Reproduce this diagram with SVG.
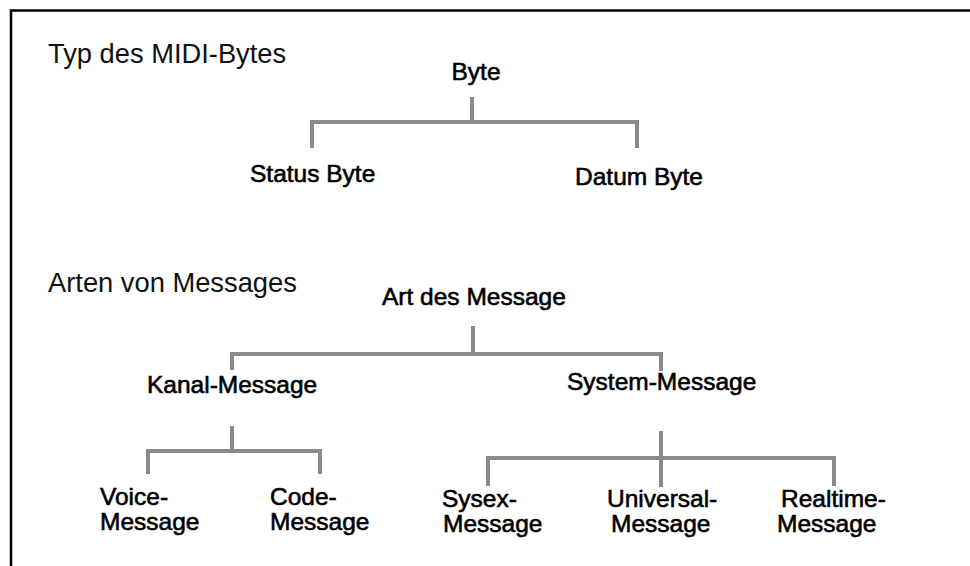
<svg xmlns="http://www.w3.org/2000/svg" width="970" height="566" viewBox="0 0 970 566">
  <style>
    .frame { fill: none; stroke: #000; stroke-width: 2.5; }
    .title { font-family: "Liberation Sans", Arial, sans-serif; font-size: 27.3px; fill: #111; }
    .label { font-family: "Liberation Sans", Arial, sans-serif; font-size: 24.5px; fill: #000; stroke: #000; stroke-width: 0.6; }
    .mid { text-anchor: middle; }
    .link { fill: none; stroke: #8a8a8a; stroke-width: 4; stroke-linejoin: miter; stroke-linecap: square; }
  </style>

  <rect width="970" height="566" fill="#fff"/>
  <!-- open frame: top and left edges -->
  <path class="frame" d="M11,566 V10.5 H970"/>

  <!-- section headings -->
  <text class="title" x="48" y="63">Typ des MIDI-Bytes</text>
  <text class="title" x="48" y="292">Arten von Messages</text>

  <!-- tree connectors -->
  <g id="connectors">
    <path class="link" d="M472,99 V122"/>
    <path class="link" d="M312,146 V122 H637 V146"/>
    <path class="link" d="M473,328 V354"/>
    <path class="link" d="M232,368 V354 H661 V369"/>
    <path class="link" d="M232,428 V451"/>
    <path class="link" d="M148,472 V451 H320 V472"/>
    <path class="link" d="M661,433 V485"/>
    <path class="link" d="M488,484 V458 H834 V484"/>
  </g>

  <!-- byte types -->
  <g id="byte"><text class="label mid" x="476" y="80">Byte</text></g>
  <g id="status-byte"><text class="label" x="250" y="182">Status Byte</text></g>
  <g id="datum-byte"><text class="label" x="575" y="185">Datum Byte</text></g>

  <!-- message types -->
  <g id="art-des-message"><text class="label" x="382" y="305">Art des Message</text></g>
  <g id="kanal-message"><text class="label" x="147" y="393">Kanal-Message</text></g>
  <g id="system-message"><text class="label" x="567" y="390">System-Message</text></g>

  <g id="voice-message"><text class="label" x="100" y="505">Voice-<tspan x="100" y="530">Message</tspan></text></g>
  <g id="code-message"><text class="label" x="270" y="505">Code-<tspan x="270" y="530">Message</tspan></text></g>
  <g id="sysex-message"><text class="label" x="442" y="507">Sysex-<tspan x="443" y="532">Message</tspan></text></g>
  <g id="universal-message"><text class="label" x="607" y="507">Universal-<tspan x="611" y="532">Message</tspan></text></g>
  <g id="realtime-message"><text class="label" x="781" y="507">Realtime-<tspan x="777" y="532">Message</tspan></text></g>
</svg>
